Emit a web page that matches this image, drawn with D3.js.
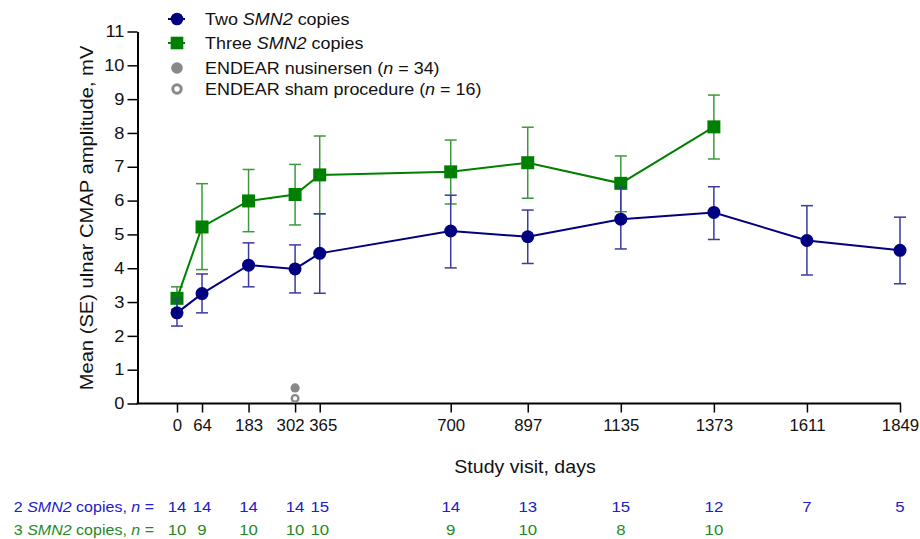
<!DOCTYPE html>
<html>
<head>
<meta charset="utf-8">
<script src="https://cdn.jsdelivr.net/npm/d3@7"></script>
<style>
  body { margin: 0; background: #fff; }
  svg { font-family: "Liberation Sans", Arial, sans-serif; }
</style>
</head>
<body>
<svg id="chart" width="920" height="539"></svg>
<script>
// study visits (days)
const days = [0, 64, 183, 302, 365, 700, 897, 1135, 1373, 1611, 1849];

// two SMN2 copies: mean, lower, upper (SE)
const twoMean = [2.68, 3.25, 4.09, 3.98, 4.44, 5.10, 4.93, 5.45, 5.65, 4.82, 4.53];
const twoLow  = [2.29, 2.68, 3.45, 3.27, 3.26, 4.01, 4.14, 4.57, 4.85, 3.80, 3.54];
const twoHigh = [3.08, 3.83, 4.75, 4.69, 5.61, 6.16, 5.72, 6.39, 6.41, 5.85, 5.51];
const twoN    = [14, 14, 14, 14, 15, 14, 13, 15, 12, 7, 5];

// three SMN2 copies (no data after day 1373)
const threeDays = [0, 64, 183, 302, 365, 700, 897, 1135, 1373];
const threeMean = [3.11, 5.22, 5.99, 6.18, 6.76, 6.85, 7.12, 6.51, 8.18];
const threeLow  = [2.78, 3.96, 5.08, 5.28, 5.61, 5.90, 6.07, 5.67, 7.23];
const threeHigh = [3.45, 6.50, 6.92, 7.07, 7.91, 7.79, 8.17, 7.32, 9.12];
const threeN    = [10, 9, 10, 10, 10, 9, 10, 8, 10];

// ENDEAR reference points at day 302
const endearDay = 302;
const endearNusinersen = 0.46;
const endearSham = 0.15;

const yTicks = [0, 1, 2, 3, 4, 5, 6, 7, 8, 9, 10, 11];

const navy = "#000080", navyBar = "#3a3aa0";
const green = "#008000", greenBar = "#3a9a3a";
const grey = "#888888";
const wide = 1.12; // the source font runs a little wider than Liberation Sans

const svg = d3.select("#chart");

const x = d3.scaleLinear().domain([0, 1849]).range([177, 900]);
const y = d3.scaleLinear().domain([0, 11]).range([403.5, 31.5]);
const axisLeftX = 137.5;

// widen a text element in place
function stretch(sel, k) {
  const s = k || wide;
  sel.each(function () {
    const t = d3.select(this);
    const tx = +t.attr("x") || 0, ty = +t.attr("y") || 0;
    t.attr("x", 0).attr("y", 0)
     .attr("transform", "translate(" + tx + "," + ty + ") scale(" + s + ",1)");
  });
}

// y axis
const yAxis = svg.append("g")
  .attr("transform", "translate(" + axisLeftX + ",0)")
  .call(d3.axisLeft(y).tickValues(yTicks).tickSize(10).tickSizeOuter(0).tickPadding(3));
yAxis.select(".domain").attr("stroke-width", 2);
yAxis.selectAll(".tick line").attr("stroke-width", 1.5);
yAxis.selectAll("text").attr("font-size", 16.3).attr("fill", "#111")
  .attr("font-family", "Liberation Sans, Arial, sans-serif").call(stretch);

// x axis
const xAxis = svg.append("g")
  .attr("transform", "translate(0," + y(0) + ")")
  .call(d3.axisBottom(x).tickValues(days).tickFormat(d3.format("d")).tickSize(9).tickPadding(7));
xAxis.select(".domain").remove();
xAxis.append("line")
  .attr("x1", axisLeftX - 1).attr("x2", x(1849) + 1)
  .attr("stroke", "#000").attr("stroke-width", 2);
xAxis.selectAll(".tick line").attr("stroke-width", 1.5);
xAxis.selectAll("text").attr("font-size", 16.3).attr("fill", "#111")
  .attr("font-family", "Liberation Sans, Arial, sans-serif")
  .attr("x", d => d === 302 ? -5 : d === 365 ? 3 : 0)
  .call(stretch, 1.03);

// axis titles
svg.append("text")
  .attr("transform", "translate(93,218) rotate(-90) scale(" + wide + ",1)")
  .attr("text-anchor", "middle")
  .attr("font-size", 18).attr("fill", "#111")
  .text("Mean (SE) ulnar CMAP amplitude, mV");

svg.append("text")
  .attr("x", 525).attr("y", 473)
  .attr("text-anchor", "middle")
  .attr("font-size", 17.5).attr("fill", "#111")
  .text("Study visit, days")
  .call(stretch);

// series drawing
function drawSeries(xs, mean, low, high, lineColor, barColor, shape) {
  const g = svg.append("g");
  const pts = xs.map((d, i) => ({ d: d, m: mean[i], lo: low[i], hi: high[i] }));

  g.selectAll(".err").data(pts).enter().append("line")
    .attr("x1", p => x(p.d)).attr("x2", p => x(p.d))
    .attr("y1", p => y(p.lo)).attr("y2", p => y(p.hi))
    .attr("stroke", barColor).attr("stroke-width", 1.5);
  ["lo", "hi"].forEach(k => {
    g.selectAll(".cap" + k).data(pts).enter().append("line")
      .attr("x1", p => x(p.d) - 6).attr("x2", p => x(p.d) + 6)
      .attr("y1", p => y(p[k])).attr("y2", p => y(p[k]))
      .attr("stroke", barColor).attr("stroke-width", 1.5);
  });

  g.append("path").datum(pts)
    .attr("d", d3.line().x(p => x(p.d)).y(p => y(p.m)))
    .attr("fill", "none").attr("stroke", lineColor).attr("stroke-width", 2);

  if (shape === "circle") {
    g.selectAll(".mk").data(pts).enter().append("circle")
      .attr("cx", p => x(p.d)).attr("cy", p => y(p.m)).attr("r", 6.5)
      .attr("fill", lineColor);
  } else {
    g.selectAll(".mk").data(pts).enter().append("rect")
      .attr("x", p => x(p.d) - 6.5).attr("y", p => y(p.m) - 6.5)
      .attr("width", 13).attr("height", 13)
      .attr("fill", lineColor);
  }
}

drawSeries(threeDays, threeMean, threeLow, threeHigh, green, greenBar, "square");
drawSeries(days, twoMean, twoLow, twoHigh, navy, navyBar, "circle");

// ENDEAR points
svg.append("circle").attr("cx", x(endearDay)).attr("cy", y(endearNusinersen)).attr("r", 4.6).attr("fill", grey);
svg.append("circle").attr("cx", x(endearDay)).attr("cy", y(endearSham)).attr("r", 3.3)
  .attr("fill", "#fff").attr("stroke", grey).attr("stroke-width", 2.4);

// legend
const lg = svg.append("g").attr("font-size", 16.3).attr("fill", "#111");
const lx = 177, tx = 205;
const rows = [19, 43, 68, 89];
lg.append("line").attr("x1", lx - 9).attr("x2", lx + 8).attr("y1", rows[0]).attr("y2", rows[0]).attr("stroke", navy).attr("stroke-width", 2);
lg.append("circle").attr("cx", lx).attr("cy", rows[0]).attr("r", 6.3).attr("fill", navy);
lg.append("line").attr("x1", lx - 9).attr("x2", lx + 8).attr("y1", rows[1]).attr("y2", rows[1]).attr("stroke", green).attr("stroke-width", 2);
lg.append("rect").attr("x", lx - 6.3).attr("y", rows[1] - 6.3).attr("width", 12.6).attr("height", 12.6).attr("fill", green);
lg.append("circle").attr("cx", lx).attr("cy", rows[2]).attr("r", 5.8).attr("fill", grey);
lg.append("circle").attr("cx", lx).attr("cy", rows[3]).attr("r", 4.2).attr("fill", "#fff").attr("stroke", grey).attr("stroke-width", 3);

function legendText(yPos, parts) {
  const t = lg.append("text").attr("x", tx).attr("y", yPos + 6);
  parts.forEach(p => t.append("tspan").attr("font-style", p[1] ? "italic" : null).text(p[0]));
  t.call(stretch, 1.1);
}
legendText(rows[0], [["Two "], ["SMN2", 1], [" copies"]]);
legendText(rows[1], [["Three "], ["SMN2", 1], [" copies"]]);
legendText(rows[2], [["ENDEAR nusinersen ("], ["n", 1], [" = 34)"]]);
legendText(rows[3], [["ENDEAR sham procedure ("], ["n", 1], [" = 16)"]]);

// n table below the axis
const blueText = "#2020c8", greenText = "#1f8a1f";
function tableRow(label, xs, ns, color, yPos) {
  const g = svg.append("g").attr("font-size", 14.3).attr("fill", color);
  const t = g.append("text").attr("x", 154).attr("y", yPos).attr("text-anchor", "end");
  t.append("tspan").text(label + " ");
  t.append("tspan").attr("font-style", "italic").text("SMN2");
  t.append("tspan").text(" copies, ");
  t.append("tspan").attr("font-style", "italic").text("n");
  t.append("tspan").text(" =");
  t.call(stretch);
  g.selectAll(".n").data(xs.map((d, i) => ({ d: d, n: ns[i] }))).enter().append("text")
    .attr("x", p => x(p.d)).attr("y", yPos).attr("text-anchor", "middle")
    .attr("font-size", 15)
    .text(p => p.n)
    .call(stretch);
}
tableRow("2", days, twoN, blueText, 512);
tableRow("3", threeDays, threeN, greenText, 535);
</script>
</body>
</html>
